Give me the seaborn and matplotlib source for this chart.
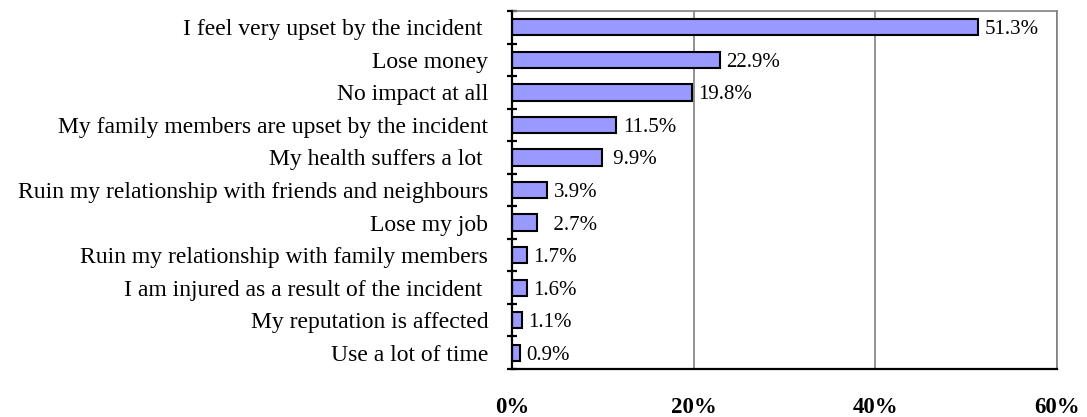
import matplotlib
matplotlib.use("Agg")
import matplotlib.pyplot as plt
import seaborn as sns
import pandas as pd
import numpy as np
from matplotlib.ticker import FixedLocator, PercentFormatter

categories = [
    "I feel very upset by the incident ",
    "Lose money",
    "No impact at all",
    "My family members are upset by the incident",
    "My health suffers a lot ",
    "Ruin my relationship with friends and neighbours",
    "Lose my job",
    "Ruin my relationship with family members",
    "I am injured as a result of the incident ",
    "My reputation is affected",
    "Use a lot of time",
]
values = [51.3, 22.9, 19.8, 11.5, 9.9, 3.9, 2.7, 1.7, 1.6, 1.1, 0.9]
value_labels = ["51.3%", "22.9%", "19.8%", "11.5%", " 9.9%", "3.9%", "  2.7%",
                "1.7%", "1.6%", "1.1%", "0.9%"]
x_ticks = [0, 20, 40, 60]

sns.set_theme(style="white")
plt.rcParams["font.family"] = ["Liberation Serif", "DejaVu Serif"]
plt.rcParams["text.color"] = "black"
plt.rcParams["xtick.color"] = "black"
plt.rcParams["ytick.color"] = "black"
plt.rcParams["xtick.labelcolor"] = "black"
plt.rcParams["ytick.labelcolor"] = "black"

df = pd.DataFrame({"category": categories, "value": values})

fig = plt.figure(figsize=(10.87, 4.17), dpi=100)
ax = fig.add_axes([0.471, 0.1151, 0.5014, 0.8585])

sns.barplot(data=df, x="value", y="category", orient="h", color="#9999FF",
            saturation=1, edgecolor="black", linewidth=1.5, width=0.5, ax=ax)

ax.set_xlim(0, 60)
ax.set_ylim(len(categories) - 0.5, -0.5)
ax.set_xlabel("")
ax.set_ylabel("")

# gridlines
for xv in x_ticks[1:]:
    ax.axvline(xv, color="#808080", lw=1.2, zorder=0)

for s in ["top", "right"]:
    ax.spines[s].set_color("#808080")
    ax.spines[s].set_linewidth(1.2)
for s in ["left", "bottom"]:
    ax.spines[s].set_color("black")
    ax.spines[s].set_linewidth(1.6)
ax.spines["left"].set_zorder(5)

ax.xaxis.set_major_locator(FixedLocator(x_ticks))
ax.xaxis.set_major_formatter(PercentFormatter(decimals=0))
ax.tick_params(axis="x", which="major", direction="inout", length=8, width=1.6,
               color="black", pad=16, labelsize=16.5, labelcolor="black")
for lbl in ax.get_xticklabels():
    lbl.set_fontweight("bold")

ax.yaxis.set_minor_locator(FixedLocator(np.arange(-0.5, len(categories) + 0.5, 1)))
ax.tick_params(axis="y", which="minor", direction="inout", length=7, width=1.6,
               color="black", left=True)
ax.tick_params(axis="y", which="major", length=0, pad=17, labelsize=17,
               labelcolor="black")

for i, (v, lab) in enumerate(zip(values, value_labels)):
    ax.annotate(lab, xy=(v, i), xytext=(4.5, 0), textcoords="offset points",
                va="center_baseline", ha="left", fontsize=15, color="black")

fig.savefig("out.png", dpi=100)
